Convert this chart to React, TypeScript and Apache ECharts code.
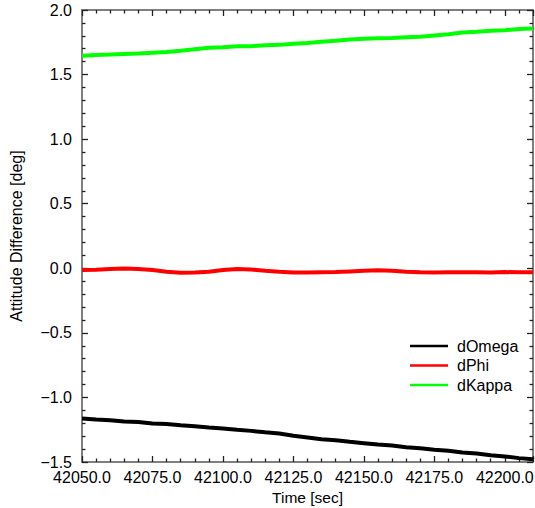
import React, { useEffect, useRef } from "react";
import * as echarts from "echarts";

const times = [
  42050, 42055, 42060, 42065, 42070, 42075, 42080, 42085, 42090, 42095, 42100,
  42105, 42110, 42115, 42120, 42125, 42130, 42135, 42140, 42145, 42150, 42155,
  42160, 42165, 42170, 42175, 42180, 42185, 42190, 42195, 42200, 42205, 42210,
];

const dOmega = [
  -1.163, -1.171, -1.176, -1.186, -1.191, -1.201, -1.206, -1.216, -1.223, -1.233,
  -1.240, -1.251, -1.259, -1.270, -1.279, -1.297, -1.310, -1.323, -1.331, -1.344,
  -1.354, -1.365, -1.373, -1.385, -1.393, -1.405, -1.413, -1.426, -1.435, -1.448,
  -1.457, -1.470, -1.479,
];

const dPhi = [
  -0.014, -0.011, -0.006, -0.001, -0.005, -0.013, -0.027, -0.034, -0.032, -0.026,
  -0.014, -0.006, -0.010, -0.019, -0.027, -0.032, -0.033, -0.030, -0.028, -0.024,
  -0.020, -0.016, -0.020, -0.027, -0.031, -0.032, -0.030, -0.031, -0.031, -0.032,
  -0.029, -0.031, -0.031,
];

const dKappa = [
  1.645, 1.651, 1.655, 1.660, 1.663, 1.669, 1.675, 1.685, 1.696, 1.707, 1.712,
  1.719, 1.720, 1.727, 1.730, 1.739, 1.744, 1.755, 1.762, 1.772, 1.777, 1.782,
  1.783, 1.789, 1.793, 1.803, 1.813, 1.825, 1.831, 1.839, 1.843, 1.852, 1.857,
];

const seriesNames = ["dOmega", "dPhi", "dKappa"];
const seriesColors = ["#000000", "#ff0000", "#00ff00"];
const seriesValues = [dOmega, dPhi, dKappa];

const FONT = "'Liberation Sans', Arial, Helvetica, sans-serif";

export default function App() {
  const ref = useRef<HTMLDivElement>(null);

  useEffect(() => {
    if (!ref.current) return;
    const chart = echarts.init(ref.current, undefined, { renderer: "svg" });

    const axisCommon = {
      type: "value" as const,
      splitLine: { show: false },
      axisLine: { show: true, onZero: false, lineStyle: { color: "#808080", width: 2 } },
      axisTick: { show: true, inside: true, length: 6, lineStyle: { color: "#222", width: 1.3 } },
      minorTick: { show: true, splitNumber: 5, length: 3.5, lineStyle: { color: "#222", width: 1.3 } },
    };

    const xCommon = { ...axisCommon, min: 42050, max: 42210, interval: 25 };
    const yCommon = { ...axisCommon, min: -1.5, max: 2.0, interval: 0.5 };

    chart.setOption({
      animation: false,
      backgroundColor: "#ffffff",
      textStyle: { fontFamily: FONT },
      grid: {
        left: 82,
        right: 2,
        top: 10,
        bottom: 46,
        containLabel: false,
        outerBoundsMode: "none",
      },
      legend: {
        orient: "vertical",
        left: 405,
        top: 333,
        icon: "rect",
        itemWidth: 38,
        itemHeight: 2.5,
        itemGap: 3.5,
        data: seriesNames,
        textStyle: {
          fontSize: 16,
          lineHeight: 14,
          color: "#000",
          fontFamily: FONT,
          padding: [0, 0, 0, 4],
        },
      },
      xAxis: [
        {
          ...xCommon,
          position: "bottom",
          name: "Time [sec]",
          nameLocation: "middle",
          nameGap: 19,
          nameTextStyle: { fontSize: 15.5, color: "#000", fontFamily: FONT, verticalAlign: "top" },
          axisLabel: {
            show: true,
            fontSize: 16,
            lineHeight: 14,
            color: "#000",
            margin: 8,
            showMaxLabel: false,
            fontFamily: FONT,
            formatter: (v: number) => v.toFixed(1),
          },
        },
        { ...xCommon, position: "top", axisLabel: { show: false } },
      ],
      yAxis: [
        {
          ...yCommon,
          position: "left",
          name: "Attitude Difference [deg]",
          nameLocation: "middle",
          nameGap: 58,
          nameTextStyle: { fontSize: 16, color: "#000", fontFamily: FONT },
          axisLabel: {
            show: true,
            fontSize: 16,
            lineHeight: 12,
            color: "#000",
            margin: 10,
            fontFamily: FONT,
            formatter: (v: number) => v.toFixed(1).replace("-", "\u2212"),
          },
        },
        { ...yCommon, position: "right", axisLabel: { show: false } },
      ],
      series: seriesNames.map((name, i) => ({
        name,
        type: "line",
        xAxisIndex: 0,
        yAxisIndex: 0,
        symbol: "none",
        showSymbol: false,
        color: seriesColors[i],
        itemStyle: { color: seriesColors[i] },
        lineStyle: { color: seriesColors[i], width: 4 },
        data: times.map((t, j) => [t, seriesValues[i][j]]),
      })),
    });

    return () => chart.dispose();
  }, []);

  return (
    <div
      ref={ref}
      style={{ position: "absolute", left: 0, top: 0, width: 535, height: 508 }}
    />
  );
}
